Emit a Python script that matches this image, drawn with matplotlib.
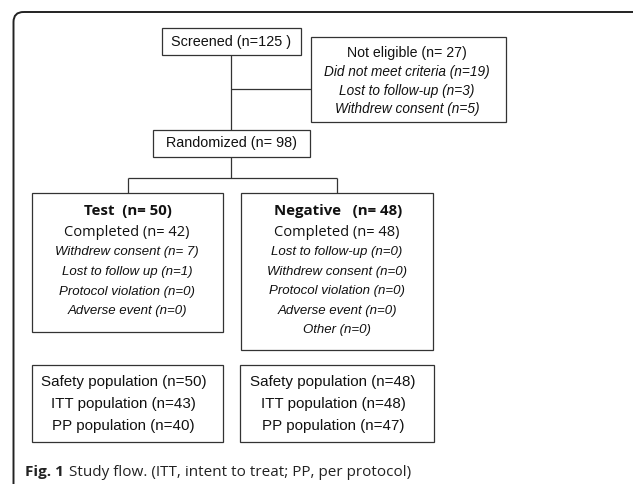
import matplotlib.pyplot as plt
from matplotlib.patches import Rectangle, FancyBboxPatch

# ---- chart content ----
screened = "Screened (n=125 )"
not_eligible_title = "Not eligible (n= 27)"
not_eligible_items = ["Did not meet criteria (n=19)",
                      "Lost to follow-up (n=3)",
                      "Withdrew consent (n=5)"]
randomized = "Randomized (n= 98)"

arm_titles = ["Test  (n= 50)", "Negative   (n= 48)"]
arm_completed = ["Completed (n= 42)", "Completed (n= 48)"]
arm_items = [
    ["Withdrew consent (n= 7)", "Lost to follow up (n=1)",
     "Protocol violation (n=0)", "Adverse event (n=0)"],
    ["Lost to follow-up (n=0)", "Withdrew consent (n=0)",
     "Protocol violation (n=0)", "Adverse event (n=0)", "Other (n=0)"],
]
populations = [
    ["Safety population (n=50)", "ITT population (n=43)", "PP population (n=40)"],
    ["Safety population (n=48)", "ITT population (n=48)", "PP population (n=47)"],
]
caption_bold = "Fig. 1"
caption_text = "Study flow. (ITT, intent to treat; PP, per protocol)"

W, H = 633, 484
fig = plt.figure(figsize=(W / 100, H / 100), dpi=100)
ax = fig.add_axes([0, 0, 1, 1])
ax.set_xlim(0, W)
ax.set_ylim(H, 0)
ax.axis("off")

LC = "#333333"
TC = "#111111"
SANS = ["Liberation Sans", "DejaVu Sans"]
OPEN = ["Open Sans", "DejaVu Sans"]


def box(x0, y0, x1, y1):
    ax.add_patch(Rectangle((x0, y0), x1 - x0, y1 - y0, fill=False,
                           edgecolor=LC, lw=0.9))


def line(xs, ys):
    ax.plot(xs, ys, color=LC, lw=0.9, solid_capstyle="butt")


# outer frame (rounded, runs off the right and bottom edges)
ax.add_patch(FancyBboxPatch((13.5, 12), 640, 490,
                            boxstyle="round,pad=0,rounding_size=10",
                            fill=False, edgecolor="#222222", lw=1.4,
                            clip_on=True))

# top part
box(162, 28, 301, 55)
ax.text(231, 42, screened, ha="center", va="center", fontsize=10.4,
        family=SANS, color=TC)

box(311, 37, 506, 122)
ax.text(407, 53, not_eligible_title, ha="center", va="center",
        fontsize=10.2, family=SANS, color=TC)
for i, s in enumerate(not_eligible_items):
    ax.text(407, 72 + i * 18.6, s, ha="center", va="center", fontsize=9.8,
            family=SANS, style="italic", color=TC)

line([231, 231], [55, 130])
line([231, 311], [89, 89])

box(153, 130, 310, 157)
ax.text(231, 143.5, randomized, ha="center", va="center", fontsize=10.4,
        family=SANS, color=TC)

line([231, 231], [157, 177.5])
line([128, 337], [177.5, 177.5])
line([128, 128], [177.5, 193])
line([337, 337], [177.5, 193])

# arm boxes
arm_boxes = [(32, 193, 223, 332), (241, 193, 433, 350)]
arm_cx = [127, 337]
item_y0 = 252
item_step = [19.8, 19.6]
for k in range(2):
    box(*arm_boxes[k])
    cx = arm_cx[k]
    ax.text(cx + 1, 211, arm_titles[k], ha="center", va="center", fontsize=10.8,
            family=OPEN, weight="bold", color=TC)
    ax.text(cx, 232, arm_completed[k], ha="center", va="center",
            fontsize=10.5, family=OPEN, color=TC)
    for i, s in enumerate(arm_items[k]):
        ax.text(cx, item_y0 + i * item_step[k], s, ha="center", va="center",
                fontsize=9.5, family=SANS, style="italic", color=TC)

# population boxes
pop_boxes = [(32, 365, 223, 442), (240, 365, 434, 442)]
for k in range(2):
    box(*pop_boxes[k])
    cx = (pop_boxes[k][0] + pop_boxes[k][2]) / 2 - 4
    for i, s in enumerate(populations[k]):
        ax.text(cx, 382 + i * 22, s, ha="center", va="center", fontsize=10.9,
                family=SANS, color=TC)

# caption
t = ax.text(25, 472, caption_bold, ha="left", va="center", fontsize=11,
            family=OPEN, weight="bold", color="#222222")
fig.canvas.draw()
bb = t.get_window_extent()
x_end = ax.transData.inverted().transform((bb.x1, bb.y0))[0]
ax.text(x_end + 5, 472, caption_text, ha="left", va="center", fontsize=11,
        family=OPEN, color="#222222")

fig.savefig("out.png", dpi=100)
